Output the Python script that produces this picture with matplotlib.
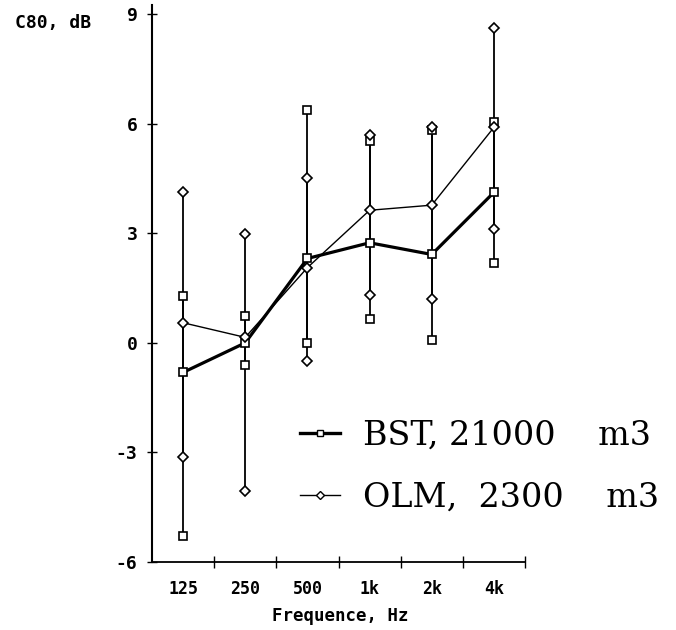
import matplotlib
matplotlib.use('Agg')
import matplotlib.pyplot as plt
from matplotlib.lines import Line2D

plt.rcParams['axes.unicode_minus'] = False

FREQ_LABELS = ['125', '250', '500', '1k', '2k', '4k']

# BST, 21000 m3: mean / max / min
BST_MEAN = [-0.81, 0.0, 2.31, 2.74, 2.42, 4.12]
BST_MAX = [1.28, 0.74, 6.37, 5.52, 5.84, 6.05]
BST_MIN = [-5.30, -0.60, 0.0, 0.65, 0.07, 2.18]

# OLM, 2300 m3: mean / max / min
OLM_MEAN = [0.55, 0.15, 2.06, 3.63, 3.77, 5.90]
OLM_MAX = [4.13, 2.99, 4.52, 5.68, 5.92, 8.61]
OLM_MIN = [-3.13, -4.06, -0.51, 1.31, 1.19, 3.13]

Y_TICKS = [-6, -3, 0, 3, 6, 9]

LEGEND_LABELS = ['BST, 21000    m3', 'OLM,  2300    m3']

MONO = {'family': 'DejaVu Sans Mono', 'weight': 'bold'}

W, H = 676, 630

fig = plt.figure(figsize=(W / 100, H / 100), dpi=100)
ax = fig.add_axes([152 / W, 1 - 562 / H, 373 / W, 557 / H])
x = list(range(len(FREQ_LABELS)))

# вертикальные отрезки min..max
for lo, hi in ((BST_MIN, BST_MAX), (OLM_MIN, OLM_MAX)):
    ax.vlines(x, lo, hi, color='black', lw=1.3, zorder=1)

ax.plot(x, BST_MEAN, color='black', lw=2.3, zorder=2)
ax.plot(x, OLM_MEAN, color='black', lw=1.0, zorder=2)

square = dict(marker='s', ms=6.3, mfc='white', mec='black', mew=1.2,
              ls='none', zorder=3)
diamond = dict(marker='D', ms=5.3, mfc='white', mec='black', mew=1.2,
               ls='none', zorder=4)
for vals in (OLM_MAX, OLM_MEAN, OLM_MIN):
    ax.plot(x, vals, **diamond)
for vals in (BST_MAX, BST_MEAN, BST_MIN):
    ax.plot(x, vals, **square)

ax.set_xlim(-0.5, 5.5)
ax.set_ylim(-6, 9.25)

ax.set_yticks(Y_TICKS)
ax.set_yticklabels([str(v) for v in Y_TICKS], fontsize=13, **MONO)
ax.tick_params(axis='y', direction='inout', length=7, width=1, pad=7)

ax.set_xticks(x)
ax.set_xticklabels(FREQ_LABELS, fontsize=12, **MONO)
ax.tick_params(axis='x', which='major', length=0, pad=13)
ax.set_xticks([i + 0.5 for i in x], minor=True)
ax.tick_params(axis='x', which='minor', direction='inout', length=8, width=1)

for side in ('top', 'right'):
    ax.spines[side].set_visible(False)
ax.spines['left'].set_linewidth(1.5)
ax.spines['bottom'].set_linewidth(1.3)

ax.set_xlabel('Frequence, Hz', fontsize=12.5, **MONO)
ax.xaxis.set_label_coords((340 - 152) / 373, (562 - 607) / 557)
ax.xaxis.label.set_verticalalignment('top')

fig.text(15 / W, 1 - 23 / H, 'C80, dB', ha='left', va='center',
         fontsize=13, **MONO)

handles = [
    Line2D([], [], color='black', lw=2.4, marker='s', ms=5,
           mfc='white', mec='black', mew=1),
    Line2D([], [], color='black', lw=1.0, marker='D', ms=4,
           mfc='white', mec='black', mew=1),
]
ax.legend(handles, LEGEND_LABELS,
          loc='center left', bbox_to_anchor=(283 / W, 1 - 467 / H),
          bbox_transform=fig.transFigure, frameon=False, borderpad=0,
          handlelength=1.2, handletextpad=0.7, labelspacing=0.9,
          prop={'family': 'DejaVu Serif', 'size': 24})

fig.savefig('out.png', dpi=100)
